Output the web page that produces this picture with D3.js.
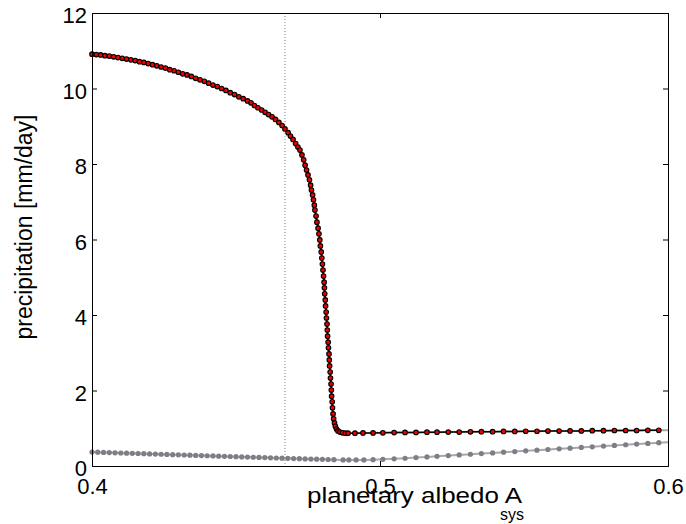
<!DOCTYPE html>
<html>
<head>
<meta charset="utf-8">
<script src="https://cdn.jsdelivr.net/npm/d3@7"></script>
<style>
body { margin: 0; background: #fff; }
text { font-family: "Liberation Sans", Arial, sans-serif; }
.axis path, .axis line { stroke: #000; stroke-width: 1; }
.axis text { font-size: 22px; fill: #000; }
</style>
</head>
<body>
<div class="chart"></div>
<script>
// upper branch (red markers)
var upperAlbedo = [0.4000,0.4015,0.4030,0.4045,0.4060,0.4075,0.4090,0.4105,0.4120,0.4135,
	0.4150,0.4165,0.4180,0.4195,0.4210,0.4225,0.4240,0.4255,0.4270,0.4285,
	0.4300,0.4315,0.4330,0.4345,0.4360,0.4375,0.4390,0.4405,0.4420,0.4435,
	0.4450,0.4465,0.4480,0.4495,0.4510,0.4525,0.4540,
	0.4552,0.4564,0.4576,0.4589,0.4601,0.4613,0.4625,0.4637,0.4649,0.4660,
	0.4670,0.4681,0.4689,0.4698,0.4707,0.4715,0.4722,0.4729,0.4735,0.4740,
	0.4745,0.4750,0.4755,0.4759,0.4762,0.4766,0.4769,0.4772,0.4774,0.4778,
	0.4781,0.4785,0.4788,0.4791,0.4793,0.4796,0.4798,0.4800,0.4802,0.4804,
	0.4806,0.4807,0.4808,0.4810,0.4811,0.4813,0.4814,0.4816,0.4817,0.4818,
	0.4820,0.4821,0.4823,0.4824,0.4825,0.4827,0.4828,0.4830,0.4831,0.4832,
	0.4834,0.4835,0.4837,0.4839,0.4842,0.4845,0.4849,0.4854,0.4861,0.4870,
	0.4880,0.4889,0.4913,0.4941,0.4976,0.5010,0.5049,0.5087,0.5125,0.5163,
	0.5198,0.5237,0.5275,0.5314,0.5352,0.5391,0.5429,0.5468,0.5506,0.5545,
	0.5583,0.5622,0.5660,0.5699,0.5737,0.5776,0.5814,0.5853,0.5891,0.5930,0.5968];
var upperPrecip = [10.91,10.90,10.89,10.87,10.86,10.84,10.82,10.80,10.78,10.76,
	10.74,10.71,10.69,10.66,10.63,10.60,10.57,10.54,10.50,10.47,
	10.43,10.39,10.36,10.32,10.27,10.23,10.19,10.14,10.09,10.05,
	10.00,9.95,9.89,9.84,9.78,9.73,9.67,
	9.62,9.55,9.49,9.43,9.37,9.31,9.25,9.18,9.10,9.02,
	8.93,8.83,8.74,8.65,8.54,8.45,8.37,8.24,8.11,7.97,
	7.84,7.71,7.58,7.44,7.31,7.18,7.05,6.91,6.78,6.62,
	6.46,6.30,6.15,5.99,5.83,5.67,5.51,5.35,5.19,5.03,
	4.87,4.72,4.56,4.40,4.24,4.08,3.92,3.76,3.60,3.44,
	3.28,3.13,2.97,2.81,2.65,2.49,2.33,2.17,2.01,1.85,
	1.70,1.54,1.38,1.25,1.14,1.05,0.98,0.93,0.90,0.88,
	0.87,0.87,0.87,0.875,0.875,0.88,0.885,0.89,0.89,0.895,
	0.895,0.90,0.90,0.905,0.91,0.91,0.915,0.915,0.92,0.92,
	0.925,0.925,0.93,0.93,0.935,0.935,0.94,0.94,0.94,0.945,0.945];
var upperEnd = [0.6, 0.948];

// lower branch (grey markers)
var lowerAlbedo = [0.400,0.402,0.404,0.406,0.408,0.410,0.412,0.414,0.416,0.418,
	0.420,0.422,0.424,0.426,0.428,0.430,0.432,0.434,0.436,0.438,
	0.440,0.442,0.444,0.446,0.448,0.450,0.452,0.454,0.456,0.458,
	0.460,0.462,0.464,0.466,0.468,0.470,0.472,0.474,0.476,0.478,
	0.480,0.482,0.484,
	0.4872,0.4892,0.4917,0.4944,0.4976,0.5010,0.5049,0.5087,0.5125,0.5163,
	0.5198,0.5237,0.5275,0.5314,0.5352,0.5391,0.5429,0.5468,0.5506,0.5545,
	0.5583,0.5622,0.5660,0.5699,0.5737,0.5776,0.5814,0.5853,0.5891,0.5930,0.5968];
var lowerPrecip = [0.370,0.365,0.360,0.355,0.350,0.345,0.340,0.336,0.331,0.326,
	0.321,0.316,0.311,0.306,0.301,0.296,0.291,0.286,0.281,0.276,
	0.271,0.266,0.261,0.256,0.251,0.246,0.241,0.237,0.232,0.227,
	0.222,0.217,0.212,0.207,0.202,0.198,0.193,0.188,0.184,0.180,
	0.176,0.172,0.168,
	0.162,0.160,0.160,0.162,0.168,0.178,0.190,0.205,0.222,0.240,
	0.257,0.275,0.293,0.311,0.329,0.347,0.365,0.383,0.401,0.419,
	0.437,0.455,0.473,0.491,0.509,0.527,0.545,0.563,0.581,0.599,0.617];
var lowerEnd = [0.6, 0.632];

var markAlbedo = 0.467;
var xTicks = [0.4, 0.5, 0.6],
yTicks = [0, 2, 4, 6, 8, 10, 12];

var width = 686,
height = 524,
plotL = 92, plotR = 668, plotT = 13, plotB = 466;

var upper = upperAlbedo.map(function(a, i) { return {a: a, p: upperPrecip[i]}; });
var lower = lowerAlbedo.map(function(a, i) { return {a: a, p: lowerPrecip[i]}; });

var chart = d3.select("div.chart")
	.append("svg")
	.attr("width", width)
	.attr("height", height);

var x = d3.scaleLinear().domain([0.4, 0.6]).range([plotL, plotR]);
var y = d3.scaleLinear().domain([0, 12]).range([plotB, plotT]);

var line = d3.line()
	.x(function(d) { return x(d.a); })
	.y(function(d) { return y(d.p); });

// dotted marker line
chart.append("line")
	.attr("x1", x(markAlbedo)).attr("x2", x(markAlbedo))
	.attr("y1", plotT).attr("y2", plotB)
	.attr("stroke", "#666")
	.attr("stroke-width", 0.8)
	.attr("stroke-dasharray", "1,2");

// grey background lines
chart.append("path")
	.attr("d", line(lower.concat([{a: lowerEnd[0], p: lowerEnd[1]}])))
	.attr("stroke", "#a8a8ac")
	.attr("stroke-width", 2)
	.attr("fill", "none");
chart.append("path")
	.attr("d", line(upper.concat([{a: upperEnd[0], p: upperEnd[1]}])))
	.attr("stroke", "#a8a8ac")
	.attr("stroke-width", 2)
	.attr("fill", "none");

chart.append("path")
	.attr("d", line(upper))
	.attr("stroke", "#000")
	.attr("stroke-width", 1.5)
	.attr("fill", "none");

chart.selectAll(".lowPt")
	.data(lower)
	.enter().append("circle")
	.attr("class", "lowPt")
	.attr("cx", function(d) { return x(d.a); })
	.attr("cy", function(d) { return y(d.p); })
	.attr("r", 2.6)
	.attr("fill", "#7e7e86");

chart.selectAll(".upPt")
	.data(upper)
	.enter().append("circle")
	.attr("class", "upPt")
	.attr("cx", function(d) { return x(d.a); })
	.attr("cy", function(d) { return y(d.p); })
	.attr("r", 2.3)
	.attr("fill", "#f00000")
	.attr("stroke", "#000")
	.attr("stroke-width", 1.1);

// axes, MATLAB style ticks pointing in
chart.append("g").attr("class", "axis")
	.attr("transform", "translate(0," + plotB + ")")
	.call(d3.axisBottom(x).tickValues(xTicks).tickFormat(d3.format(".1f")).tickSize(-5).tickPadding(12));
chart.append("g").attr("class", "axis")
	.attr("transform", "translate(0," + plotT + ")")
	.call(d3.axisTop(x).tickValues(xTicks).tickFormat("").tickSize(-5));
chart.append("g").attr("class", "axis")
	.attr("transform", "translate(" + plotL + ",0)")
	.call(d3.axisLeft(y).tickValues(yTicks).tickFormat(d3.format("d")).tickSize(-5).tickPadding(5))
	.selectAll("text").attr("dy", "0.44em");
chart.append("g").attr("class", "axis")
	.attr("transform", "translate(" + plotR + ",0)")
	.call(d3.axisRight(y).tickValues(yTicks).tickFormat("").tickSize(-5));

chart.selectAll(".axis path").attr("stroke-width", 1.3);
chart.selectAll(".axis text").attr("fill", "#000");

// axis labels
var xl = chart.append("text")
	.attr("x", 307)
	.attr("y", 503)
	.style("font-size", "22px");
xl.append("tspan")
	.attr("textLength", 215)
	.attr("lengthAdjust", "spacingAndGlyphs")
	.text("planetary albedo A");
xl.append("tspan")
	.attr("x", 500)
	.attr("y", 520)
	.style("font-size", "16px")
	.text("sys");

chart.append("text")
	.attr("transform", "translate(32,227) rotate(-90)")
	.attr("text-anchor", "middle")
	.style("font-size", "23px")
	.text("precipitation [mm/day]");
</script>
</body>
</html>
